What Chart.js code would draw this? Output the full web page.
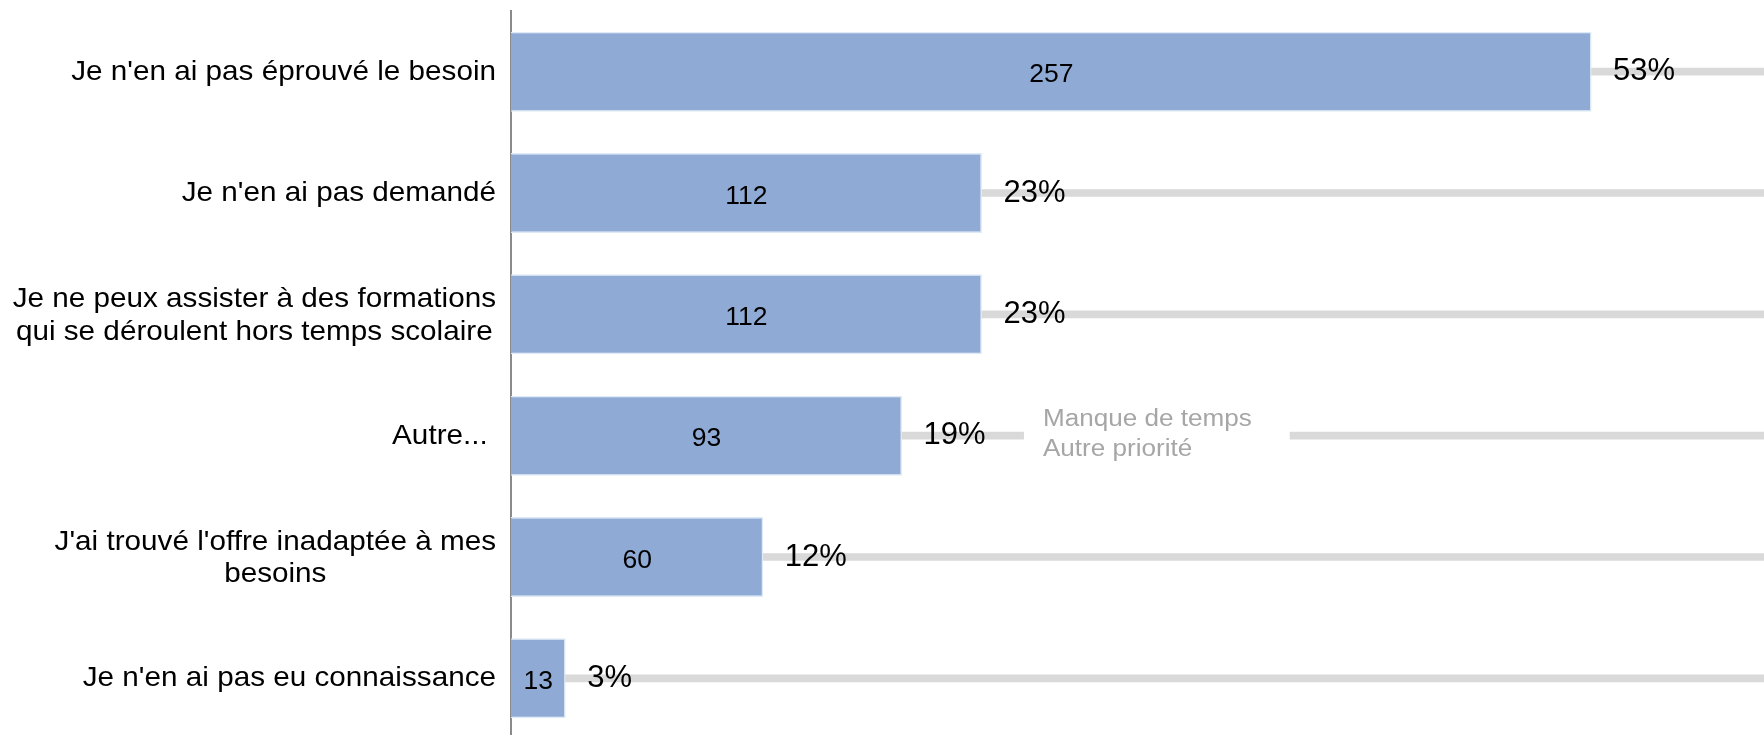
<!DOCTYPE html>
<html>
<head>
<meta charset="utf-8">
<script src="https://cdn.jsdelivr.net/npm/chart.js@4.4.1/dist/chart.umd.min.js"></script>
<style>
  html, body { margin: 0; padding: 0; background: #fff; overflow: hidden; }
  #wrap { width: 1764px; height: 739px; position: relative; }
</style>
</head>
<body>
<div id="wrap"><canvas id="chart"></canvas></div>
<script>
// data
const categories = [
  ["Je n'en ai pas éprouvé le besoin"],
  ["Je n'en ai pas demandé"],
  ["Je ne peux assister à des formations", "qui se déroulent hors temps scolaire"],
  ["Autre... "],
  ["J'ai trouvé l'offre inadaptée à mes", "besoins"],
  ["Je n'en ai pas eu connaissance"]
];
const counts = [257, 112, 112, 93, 60, 13];
const percents = ["53%", "23%", "23%", "19%", "12%", "3%"];
const otherNote = ["Manque de temps", "Autre priorité"];
const noteRow = 3;
const xMax = 298;
const track = categories.map(() => xMax);

const FONT = '"Liberation Sans", Arial, sans-serif';

// text drawn a bit wider than tall, like the original
function wideText(ctx, text, x, y, sx, align) {
  ctx.save();
  ctx.translate(x, y);
  ctx.scale(sx, 1);
  ctx.textAlign = align;
  ctx.fillText(text, 0, 0);
  ctx.restore();
}

const labelsPlugin = {
  id: 'labels',
  afterDatasetsDraw(chart) {
    const ctx = chart.ctx;
    const x = chart.scales.x, y = chart.scales.y;
    const bars = chart.getDatasetMeta(1).data;
    ctx.save();
    ctx.textBaseline = 'alphabetic';

    // category labels, lines centred in a right-aligned block
    const sx = 1.06;
    ctx.font = '28px ' + FONT;
    ctx.fillStyle = '#000';
    categories.forEach((lines, i) => {
      const cy = y.getPixelForValue(i);
      const w = Math.max(...lines.map(l => ctx.measureText(l).width)) * sx;
      const cx = chart.chartArea.left - 15 - w / 2;
      const shift = lines.length > 1 ? 1 : 0;
      lines.forEach((l, j) => {
        wideText(ctx, l, cx, cy + 8 + shift + (j - (lines.length - 1) / 2) * 32.5, sx, 'center');
      });
    });

    // counts inside bars
    ctx.font = '26.5px ' + FONT;
    ctx.textAlign = 'center';
    bars.forEach((b, i) => ctx.fillText(String(counts[i]), (b.x + b.base) / 2, b.y + 10.5));

    // percentages after bars
    ctx.font = '31px ' + FONT;
    ctx.textAlign = 'left';
    bars.forEach((b, i) => ctx.fillText(percents[i], b.x + 21.5, b.y + 8.5));

    // note on the "Autre" row
    const cy = y.getPixelForValue(noteRow);
    const x0 = x.getPixelForValue(122), x1 = x.getPixelForValue(185.2);
    ctx.fillStyle = '#fff';
    ctx.fillRect(x0, cy - 8, x1 - x0, 16);
    ctx.fillStyle = '#a6a6a6';
    ctx.font = '23.3px ' + FONT;
    wideText(ctx, otherNote[0], x.getPixelForValue(126.5), cy - 10, 1.12, 'left');
    wideText(ctx, otherNote[1], x.getPixelForValue(126.5), cy + 20, 1.12, 'left');
    ctx.restore();
  }
};

new Chart(document.getElementById('chart'), {
  type: 'bar',
  data: {
    labels: categories,
    datasets: [
      {
        data: track,
        backgroundColor: '#d9d9d9',
        barThickness: 7,
        grouped: false,
        order: 2
      },
      {
        data: counts,
        backgroundColor: '#8faad5',
        borderColor: '#deebf7',
        borderWidth: 1.5,
        categoryPercentage: 1,
        barPercentage: 0.66,
        grouped: false,
        order: 1
      }
    ]
  },
  options: {
    indexAxis: 'y',
    responsive: true,
    maintainAspectRatio: false,
    animation: false,
    layout: { padding: { left: 503, top: 11, right: 0, bottom: 0 } },
    plugins: { legend: { display: false }, tooltip: { enabled: false } },
    scales: {
      x: { display: false, min: 0, max: xMax },
      y: {
        grid: { display: false },
        border: { color: '#8a8a8a', width: 2 },
        ticks: { display: false }
      }
    }
  },
  plugins: [labelsPlugin]
});
</script>
</body>
</html>
